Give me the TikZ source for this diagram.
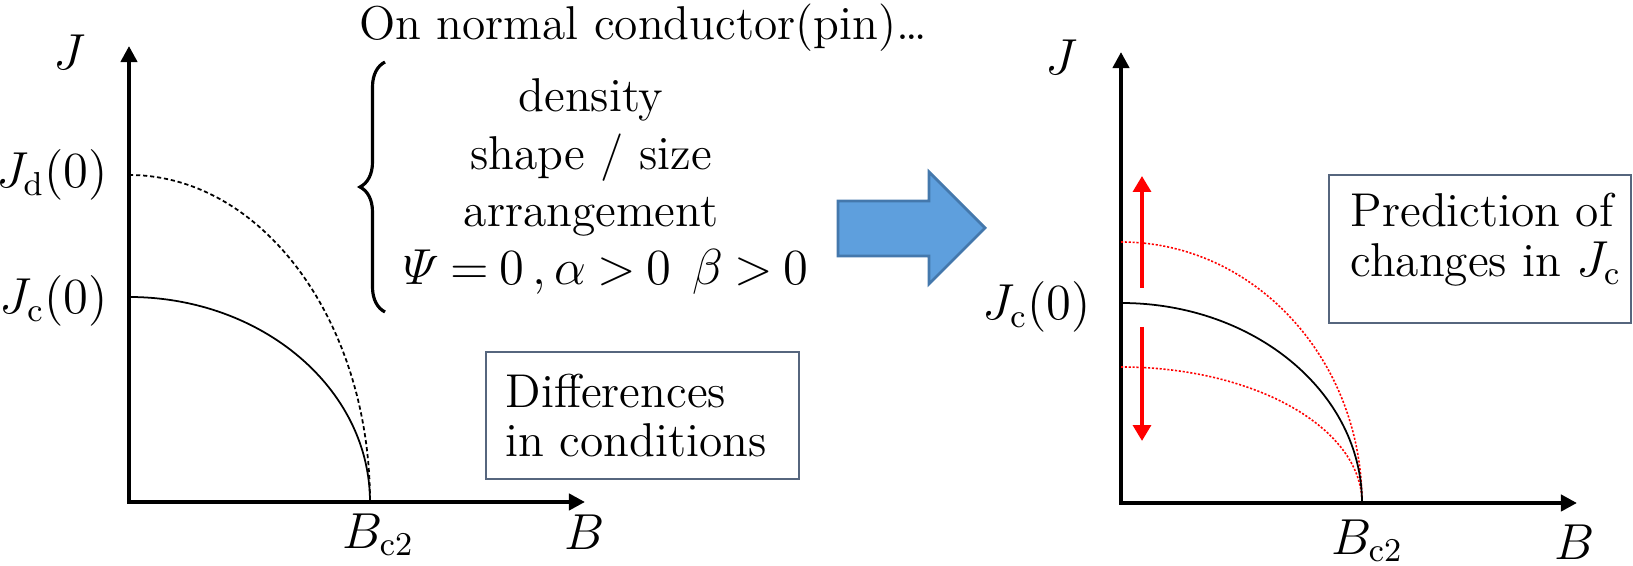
\documentclass[tikz,border=0pt]{standalone}
\usepackage{amsmath}
\usepackage{fontspec}
\usetikzlibrary{arrows.meta,decorations.pathreplacing}
\definecolor{boxline}{HTML}{56667E}
\definecolor{arrowfill}{HTML}{5E9FDD}
\definecolor{arrowline}{HTML}{4478AC}
\tikzset{
  axis/.style={line width=1.4pt,-{Triangle[width=4.6pt,length=4.6pt]}},
  redarrow/.style={red,line width=1.3pt,-{Triangle[width=5pt,length=4.5pt]}},
  curve/.style={line width=0.5pt},
  reddot/.style={red,line width=0.45pt,dash pattern=on 0.6pt off 0.5pt},
  note/.style={draw=boxline,line width=0.7pt,inner sep=0pt},
  boxtext/.style={anchor=base west,inner sep=0pt},
}
\begin{document}
\begin{tikzpicture}[font=\fontsize{13.5}{16}\selectfont]
\useasboundingbox (0,0) rectangle (16.33,5.66);
% left plot
\coordinate (O1) at (1.29,0.64);
\coordinate (X1) at (1.27,0.64);
\coordinate (Jtop1) at (1.29,5.20);
\coordinate (Bend1) at (5.85,0.64);
\coordinate (Jd1) at (1.29,3.91);
\coordinate (Jc1) at (1.29,2.69);
\draw[axis] (X1) -- (Bend1);
\draw[axis] (O1) -- (Jtop1);
\draw[curve,dash pattern=on 1.2pt off 0.8pt] (Jd1) arc[start angle=90,end angle=0,x radius=2.41,y radius=3.27];
\draw[curve] (Jc1) arc[start angle=90,end angle=0,x radius=2.41,y radius=2.05];
\node (J1) at (0.70,5.14) {$J$};
\node[anchor=east] (Jdlab) at (1.20,3.91) {$J_{\mathrm{d}}(0)$};
\node[anchor=east] (Jclab1) at (1.20,2.65) {$J_{\mathrm{c}}(0)$};
\node (Bclab1) at (3.78,0.31) {$B_{\mathrm{c2}}$};
\node (B1) at (5.85,0.34) {$B$};

% conditions on the pins
\node (pin) at (6.43,5.38) {On normal conductor(pin)…};
\draw[decorate,decoration={brace,amplitude=0.25cm},line width=0.9pt] (3.85,2.54) -- (3.85,5.04);
\node[anchor=base] (dens) at (5.91,4.54) {density};
\node[anchor=base] (shp) at (5.91,3.96) {shape / size};
\node[anchor=base] (arr) at (5.91,3.39) {arrangement};
\node[anchor=base] (cond) at (6.06,2.81) {\thickmuskip=3.8mu$\varPsi=0\,,\alpha>0\;\;\beta>0$};
\node[note,minimum width=3.13cm,minimum height=1.27cm,anchor=south west] (diffbox) at (4.85,0.86) {};
\node[boxtext] (diff1) at (5.05,1.58) {Differences};
\node[boxtext] (diff2) at (5.05,1.09) {in conditions};

% big arrow
\filldraw[fill=arrowfill,draw=arrowline,line width=0.8pt] (8.38,3.10) -- (8.38,3.65) -- (9.29,3.65) -- (9.29,3.94)
  -- (9.85,3.38) -- (9.29,2.82) -- (9.29,3.10) -- cycle;

% right plot
\coordinate (O2) at (11.21,0.63);
\coordinate (X2) at (11.19,0.63);
\coordinate (Jtop2) at (11.21,5.14);
\coordinate (Bend2) at (15.77,0.63);
\coordinate (Jup) at (11.21,3.24);
\coordinate (Jc2) at (11.21,2.63);
\coordinate (Jdown) at (11.21,1.99);
\draw[axis] (X2) -- (Bend2);
\draw[axis] (O2) -- (Jtop2);
\draw[reddot] (Jup) arc[start angle=90,end angle=0,x radius=2.41,y radius=2.61];
\draw[reddot] (Jdown) arc[start angle=90,end angle=0,x radius=2.41,y radius=1.36];
\draw[curve] (Jc2) arc[start angle=90,end angle=0,x radius=2.41,y radius=2.00];
\coordinate (up0) at (11.42,2.78);
\coordinate (up1) at (11.42,3.90);
\coordinate (dn0) at (11.42,2.39);
\coordinate (dn1) at (11.42,1.25);
\draw[redarrow] (up0) -- (up1);
\draw[redarrow] (dn0) -- (dn1);
\node (J2) at (10.62,5.09) {$J$};
\node[anchor=east] (Jclab2) at (11.03,2.59) {$J_{\mathrm{c}}(0)$};
\node (Bclab2) at (13.67,0.25) {$B_{\mathrm{c2}}$};
\node[inner sep=1pt] (B2) at (15.75,0.24) {$B$};
\node[note,minimum width=3.02cm,minimum height=1.48cm,anchor=south west] (predbox) at (13.28,2.42) {};
\node[boxtext] (pred1) at (13.50,3.39) {Prediction of};
\node[boxtext] (pred2) at (13.50,2.89) {changes in $J_{\mathrm{c}}$};
\end{tikzpicture}
\end{document}
